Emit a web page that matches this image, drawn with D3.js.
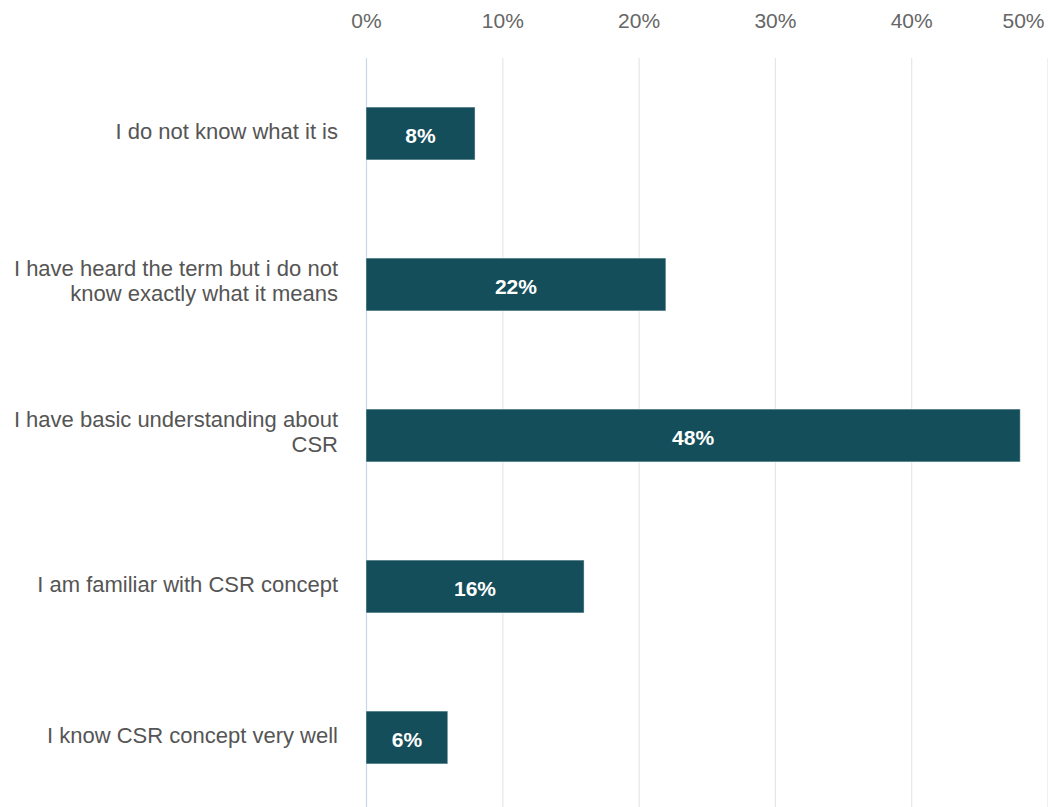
<!DOCTYPE html>
<html>
<head>
<meta charset="utf-8">
<script src="https://cdn.jsdelivr.net/npm/d3@7"></script>
<style>
  html, body { margin: 0; padding: 0; background: #ffffff; }
  svg { display: block; font-family: "Liberation Sans", Arial, Helvetica, sans-serif; }
</style>
</head>
<body>
<svg id="chart" width="1048" height="807"></svg>
<script>
// Survey answers: awareness of CSR
const categories = [
  ["I do not know what it is"],
  ["I have heard the term but i do not", "know exactly what it means"],
  ["I have basic understanding about", "CSR"],
  ["I am familiar with CSR concept"],
  ["I know CSR concept very well"]
];
const shares = [8, 22, 48, 16, 6];
const tickValues = [0, 10, 20, 30, 40, 50];
const tickLabels = ["0%", "10%", "20%", "30%", "40%", "50%"];

const chartWidth = 1048, chartHeight = 807;
const plot = { left: 366, right: 1047.5, top: 58, bottom: 813 };

const svg = d3.select("#chart");

const x = d3.scaleLinear().domain([0, 50]).range([plot.left, plot.right]);
const y = d3.scaleBand()
  .domain(d3.range(categories.length))
  .range([plot.top, plot.bottom])
  .paddingInner(0.65)
  .paddingOuter(0.325);

// vertical grid lines
const grid = svg.append("g")
  .attr("transform", `translate(0,${plot.top})`)
  .call(d3.axisBottom(x).tickValues(tickValues).tickSize(plot.bottom - plot.top).tickFormat(""));
grid.select(".domain").remove();
grid.selectAll(".tick line")
  .attr("stroke", d => d === 0 ? "#ccd6eb" : "#e6e6e6")
  .attr("stroke-width", 1.2);

// percentage labels along the top
const topAxis = svg.append("g")
  .attr("transform", `translate(0,28)`)
  .call(d3.axisTop(x).tickValues(tickValues).tickSize(0).tickPadding(0)
    .tickFormat((d, i) => tickLabels[i]));
topAxis.select(".domain").remove();
topAxis.selectAll(".tick text")
  .attr("y", 0)
  .attr("dy", 0)
  .attr("fill", "#666666")
  .attr("font-size", "21px")
  .attr("font-family", "'Liberation Sans', Arial, sans-serif")
  .attr("text-anchor", (d, i) => i === tickValues.length - 1 ? "end" : "middle")
  .attr("x", (d, i) => i === tickValues.length - 1 ? chartWidth - 4 - x(d) : 0);

// bars
const bars = svg.append("g");
bars.selectAll("rect")
  .data(shares)
  .join("rect")
  .attr("x", x(0))
  .attr("y", (d, i) => y(i))
  .attr("width", d => x(d) - x(0))
  .attr("height", y.bandwidth())
  .attr("fill", "#134e5a")
  .attr("stroke", "#ffffff")
  .attr("stroke-opacity", 0.45)
  .attr("stroke-width", 1);

// values inside the bars
bars.selectAll("text")
  .data(shares)
  .join("text")
  .attr("x", d => (x(0) + x(d)) / 2)
  .attr("y", (d, i) => y(i) + y.bandwidth() / 2 + 9.5)
  .attr("text-anchor", "middle")
  .attr("fill", "#ffffff")
  .attr("font-weight", "bold")
  .attr("font-size", "21px")
  .text(d => d + "%");

// category labels, right aligned beside the axis
const labels = svg.append("g");
categories.forEach((lines, i) => {
  const cy = y(i) + y.bandwidth() / 2;
  const t = labels.append("text")
    .attr("text-anchor", "end")
    .attr("fill", "#555555")
    .attr("font-size", "22px");
  const first = lines.length === 1 ? cy + 5.5 : cy - 9;
  lines.forEach((line, j) => {
    t.append("tspan")
      .attr("x", 338)
      .attr("y", first + j * 25.5)
      .text(line);
  });
});
</script>
</body>
</html>
